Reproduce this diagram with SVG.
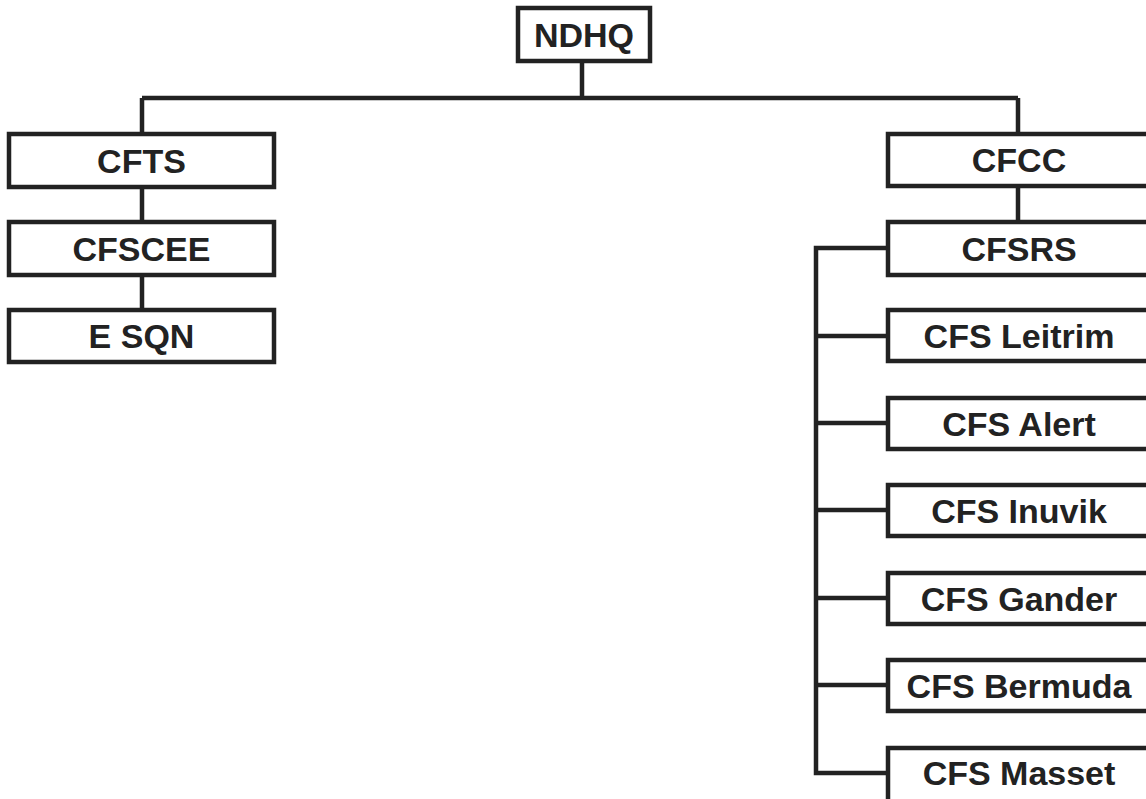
<svg xmlns="http://www.w3.org/2000/svg" width="1146" height="799" viewBox="0 0 1146 799">
<style>
.box{fill:#fff;stroke:#222;stroke-width:4.5}
.lbl{font-family:"Liberation Sans",Arial,sans-serif;font-weight:bold;font-size:34px;fill:#222;text-anchor:middle}
.con{fill:none;stroke:#222;stroke-width:4.5}
</style>
<rect width="1146" height="799" fill="#fff"/>
<g id="connectors" class="con">
<path d="M582 61V98M142 98H1018M142 98V134M142 187V222M142 275V310M1018 98V134M1018 186V222"/>
<path d="M888 248H816V773H888M816 336H888M816 423H888M816 510H888M816 598H888M816 685H888"/>
</g>
<g id="ndhq"><rect class="box" x="518" y="8" width="132" height="53"/><text class="lbl" x="584" y="46.5">NDHQ</text></g>
<g id="cfts"><rect class="box" x="9" y="134" width="265" height="53"/><text class="lbl" x="141.5" y="172.5">CFTS</text></g>
<g id="cfscee"><rect class="box" x="9" y="222" width="265" height="53"/><text class="lbl" x="141.5" y="260.5">CFSCEE</text></g>
<g id="esqn"><rect class="box" x="9" y="310" width="265" height="52"/><text class="lbl" x="141.5" y="348">E SQN</text></g>
<g id="cfcc"><rect class="box" x="888" y="134" width="262" height="52"/><text class="lbl" x="1019" y="172">CFCC</text></g>
<g id="cfsrs"><rect class="box" x="888" y="222" width="262" height="53"/><text class="lbl" x="1019" y="260.5">CFSRS</text></g>
<g id="leitrim"><rect class="box" x="888" y="310" width="262" height="51"/><text class="lbl" x="1019" y="347.5">CFS Leitrim</text></g>
<g id="alert"><rect class="box" x="888" y="398" width="262" height="51"/><text class="lbl" x="1019" y="435.5">CFS Alert</text></g>
<g id="inuvik"><rect class="box" x="888" y="485" width="262" height="51"/><text class="lbl" x="1019" y="522.5">CFS Inuvik</text></g>
<g id="gander"><rect class="box" x="888" y="573" width="262" height="51"/><text class="lbl" x="1019" y="610.5">CFS Gander</text></g>
<g id="bermuda"><rect class="box" x="888" y="660" width="262" height="51"/><text class="lbl" x="1019" y="697.5">CFS Bermuda</text></g>
<g id="masset"><rect class="box" x="888" y="748" width="262" height="60"/><text class="lbl" x="1019" y="785">CFS Masset</text></g>
</svg>
